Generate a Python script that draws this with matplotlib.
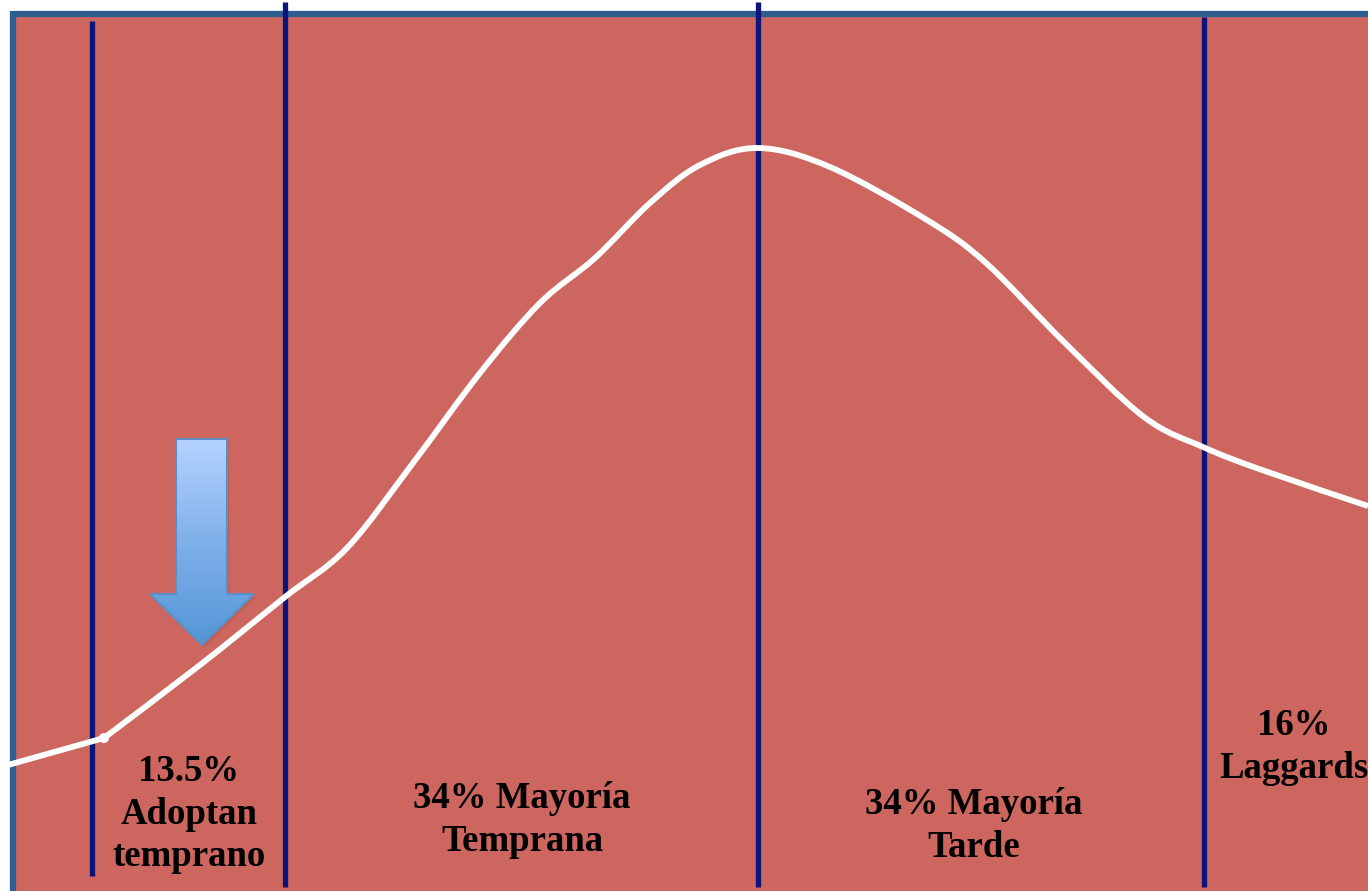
import numpy as np
import matplotlib
matplotlib.use("Agg")
import matplotlib.pyplot as plt
from matplotlib.patches import Rectangle, Polygon, Circle, PathPatch
from matplotlib.path import Path

# curva de adopción (posición horizontal, altura en la diapositiva)
curve_x = [8, 104, 200, 285, 347, 413, 480, 540, 595, 650, 700, 758, 830,
           927, 986, 1065, 1144, 1203, 1262, 1368]
curve_y = [765, 738, 665, 597, 548, 463, 373, 303, 258, 203, 165, 148, 167,
           220, 263, 343, 417, 447, 470, 506]

# líneas divisorias: posición, inicio y fin
divider_x = [92, 285, 758, 1204]
divider_top = [21, 2, 2, 17]
divider_bottom = [876, 887, 887, 887]

labels = ["13.5%\nAdoptan\ntemprano", "34% Mayoría\nTemprana",
          "34% Mayoría\nTarde", "16%\nLaggards"]
label_x = [189, 522, 974, 1294]
label_y = [814, 820, 826, 747]

W, H = 1368, 891
fig = plt.figure(figsize=(W / 100, H / 100), dpi=100)
ax = fig.add_axes([0, 0, 1, 1])
ax.set_xlim(0, W)
ax.set_ylim(H, 0)
ax.axis('off')

red = '#CD665F'
border = '#2E5E8F'
navy = '#0B1479'

# fondo rojo y borde azul
ax.add_patch(Rectangle((13, 14), W, H, fc=red, ec='none', zorder=0))
ax.plot([13, W], [14, 14], color=border, lw=4.5, solid_capstyle='butt', zorder=1)
ax.plot([13, 13], [11, H], color=border, lw=4.5, solid_capstyle='butt', zorder=1)

for x, t, b in zip(divider_x, divider_top, divider_bottom):
    ax.plot([x, x], [t, b], color=navy, lw=3.8, solid_capstyle='butt', zorder=2)


def smooth_path(xs, ys):
    # curva suave que pasa por los puntos (tangentes tipo Catmull-Rom)
    p = np.column_stack([xs, ys]).astype(float)
    verts = [p[0], p[1]]
    codes = [Path.MOVETO, Path.LINETO]  # primer tramo recto hasta el quiebre
    for i in range(1, len(p) - 1):
        p0 = p[i - 1] if i > 1 else p[i]
        p3 = p[i + 2] if i + 2 < len(p) else p[i + 1]
        c1 = p[i] + (p[i + 1] - p0) / 6
        c2 = p[i + 1] - (p3 - p[i]) / 6
        verts += [c1, c2, p[i + 1]]
        codes += [Path.CURVE4] * 3
    return Path(verts, codes)


ax.add_patch(PathPatch(smooth_path(curve_x, curve_y), fc='none', ec='white',
                       lw=4.2, capstyle='butt', joinstyle='round', zorder=3))
ax.add_patch(Circle((104, 738), 5, fc='white', ec='none', zorder=3))

# flecha con degradado
arrow_pts = [(176, 439), (227, 439), (227, 594), (254, 594), (202, 645),
             (150, 594), (176, 594)]
shadow = Polygon([(x + 2, y + 3) for x, y in arrow_pts], closed=True,
                 fc='#8a3f3a', ec='none', alpha=0.2, zorder=4)
ax.add_patch(shadow)
arrow = Polygon(arrow_pts, closed=True, fc='none', ec='#5C8FC6', lw=1.5, zorder=6)
ax.add_patch(arrow)
grad = np.linspace(0, 1, 256).reshape(-1, 1)
cmap = matplotlib.colors.LinearSegmentedColormap.from_list(
    'flecha', ['#B5D3FF', '#7FB0EA', '#5495D6'])
img = ax.imshow(grad, cmap=cmap, extent=(148, 256, 645, 439), aspect='auto',
                zorder=5, interpolation='bilinear')
img.set_clip_path(arrow)

# textos
for txt, x, y in zip(labels, label_x, label_y):
    ax.text(x, y, txt, ha='center', va='center', fontsize=26.5,
            fontweight='bold', family=['Liberation Serif', 'DejaVu Serif'],
            linespacing=1.26, color='black', zorder=7)

fig.savefig('out.png', dpi=100, facecolor='white')
